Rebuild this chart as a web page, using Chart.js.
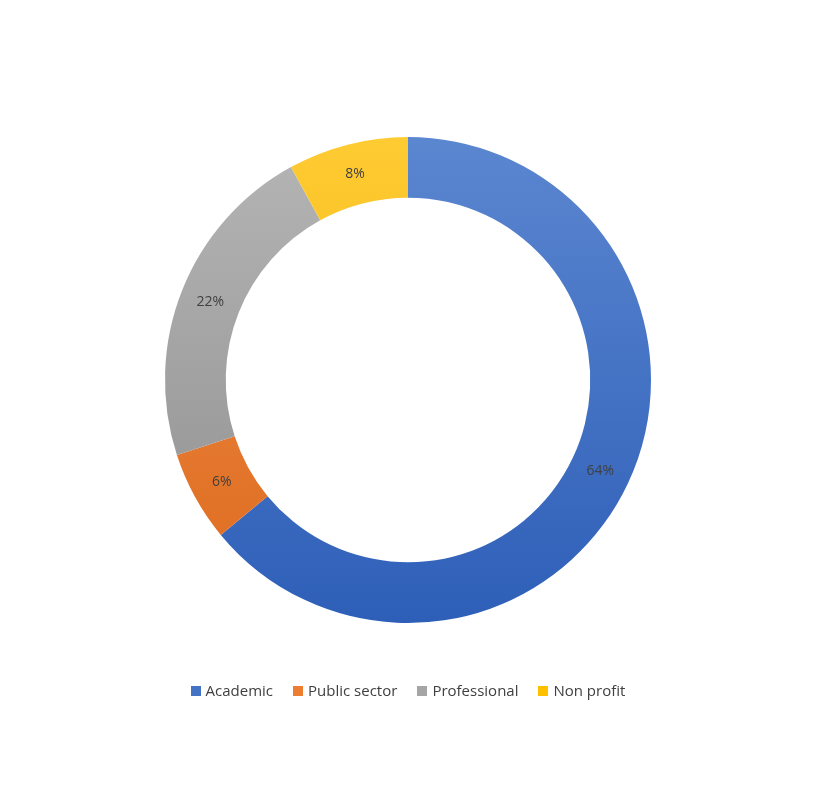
<!DOCTYPE html>
<html>
<head>
<meta charset="utf-8">
<script src="https://cdn.jsdelivr.net/npm/chart.js@4/dist/chart.umd.min.js"></script>
<style>
  body { margin: 0; background: #fff; font-family: "Open Sans", "Noto Sans", sans-serif; }
  #wrap { position: relative; width: 821px; height: 800px; }
  #legend { position: absolute; top: 680px; left: 0; width: 816px; text-align: center; font-size: 15px; color: #404040; }
  #legend span.item { margin: 0 10px; white-space: nowrap; }
  #legend i { display: inline-block; width: 10px; height: 10px; margin-right: 5px; }
</style>
</head>
<body>
<div id="wrap">
  <canvas id="chart" width="821" height="800"></canvas>
  <div id="legend"></div>
</div>
<script>
const labels = ["Academic", "Public sector", "Professional", "Non profit"];
const values = [64, 6, 22, 8];
const colors = ["#4472C4", "#ED7D31", "#A5A5A5", "#FFC000"];
const lightColors = ["#5B86D0", "#F28F4E", "#B5B5B5", "#FFCB33"];
const darkColors = ["#2E5FB8", "#DC6A1C", "#8E8E8E", "#EAB000"];

// вертикальный градиент для каждого сегмента
function grad(ctx) {
    const chart = ctx.chart;
    const area = chart.chartArea;
    if (!area) return colors[ctx.dataIndex];
    const g = chart.ctx.createLinearGradient(0, area.top, 0, area.bottom);
    g.addColorStop(0, lightColors[ctx.dataIndex]);
    g.addColorStop(1, darkColors[ctx.dataIndex]);
    return g;
}

const labelPlugin = {
    id: "sliceLabels",
    afterDatasetsDraw(chart) {
        const c = chart.ctx;
        chart.getDatasetMeta(0).data.forEach((arc, i) => {
            const p = arc.tooltipPosition();
            c.save();
            c.fillStyle = "#404040";
            c.font = '14px "Open Sans", sans-serif';
            c.textAlign = "center";
            c.textBaseline = "middle";
            c.fillText(values[i] + "%", p.x, p.y);
            c.restore();
        });
    }
};

new Chart(document.getElementById("chart"), {
    type: "doughnut",
    data: {
        labels: labels,
        datasets: [{ data: values, backgroundColor: grad, borderWidth: 0 }]
    },
    options: {
        responsive: false,
        animation: false,
        cutout: "75%",
        layout: { padding: { top: 137, bottom: 177, left: 0, right: 5 } },
        plugins: { legend: { display: false }, tooltip: { enabled: false } }
    },
    plugins: [labelPlugin]
});

document.getElementById("legend").innerHTML = labels.map((l, i) =>
    `<span class="item"><i style="background:${colors[i]}"></i>${l}</span>`).join("");
</script>
</body>
</html>
